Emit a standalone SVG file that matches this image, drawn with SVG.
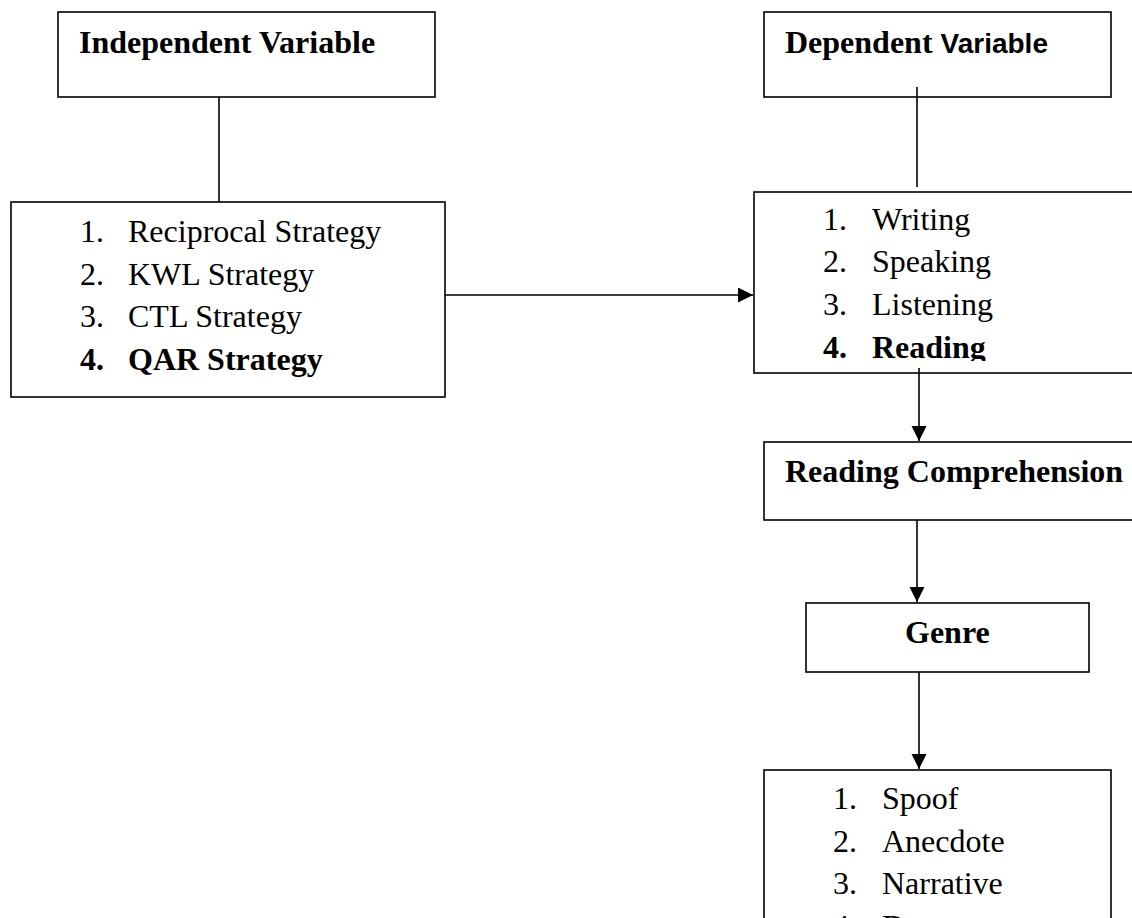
<svg xmlns="http://www.w3.org/2000/svg" width="1132" height="918" viewBox="0 0 1132 918">
<style>
.box{fill:#fff;stroke:#000;stroke-width:1.6}
.t{font-family:"Liberation Serif","Times New Roman",serif;font-size:32px;fill:#000}
.b{font-weight:bold}
.s{font-family:"Liberation Sans",Arial,sans-serif;font-weight:bold;font-size:28px}
.ln{stroke:#000;stroke-width:1.6;fill:none}
</style>
<defs>
<marker id="arr" markerWidth="16" markerHeight="16" refX="15" refY="7.5" orient="auto" markerUnits="userSpaceOnUse">
<path d="M0,0 L15,7.5 L0,15 Z" fill="#000"/>
</marker>
<clipPath id="c3"><rect x="754" y="192" width="380" height="169"/></clipPath>
</defs>
<g id="independent-variable">
<rect class="box" x="58" y="12" width="377" height="85"/>
<text class="t b" x="79" y="53">Independent Variable</text>
</g>
<g id="strategies">
<rect class="box" x="11" y="202" width="434" height="195"/>
<text class="t" x="80" y="242">1.</text><text class="t" x="128" y="242">Reciprocal Strategy</text>
<text class="t" x="80" y="285">2.</text><text class="t" x="128" y="285">KWL Strategy</text>
<text class="t" x="80" y="327">3.</text><text class="t" x="128" y="327">CTL Strategy</text>
<text class="t b" x="80" y="370">4.</text><text class="t b" x="128" y="370">QAR Strategy</text>
</g>
<g id="dependent-variable">
<rect class="box" x="764" y="12" width="347" height="85"/>
<text class="t b" x="785" y="53">Dependent <tspan class="s">Variable</tspan></text>
</g>
<g id="skills">
<rect class="box" x="754" y="192" width="400" height="181"/>
<g clip-path="url(#c3)">
<text class="t" x="823" y="230">1.</text><text class="t" x="872" y="230">Writing</text>
<text class="t" x="823" y="272">2.</text><text class="t" x="872" y="272">Speaking</text>
<text class="t" x="823" y="315">3.</text><text class="t" x="872" y="315">Listening</text>
<text class="t b" x="823" y="358">4.</text><text class="t b" x="872" y="358">Reading</text>
</g>
</g>
<g id="reading-comprehension">
<rect class="box" x="764" y="442" width="400" height="78"/>
<text class="t b" x="785" y="482">Reading Comprehension</text>
</g>
<g id="genre">
<rect class="box" x="806" y="603" width="283" height="69"/>
<text class="t b" x="905" y="643">Genre</text>
</g>
<g id="genres">
<rect class="box" x="764" y="770" width="347" height="200"/>
<text class="t" x="833" y="809">1.</text><text class="t" x="882" y="809">Spoof</text>
<text class="t" x="833" y="852">2.</text><text class="t" x="882" y="852">Anecdote</text>
<text class="t" x="833" y="894">3.</text><text class="t" x="882" y="894">Narrative</text>
<text class="t" x="833" y="937">4.</text><text class="t" x="882" y="937">D</text>
</g>
<g id="connectors">
<line class="ln" x1="219" y1="97" x2="219" y2="202"/>
<line class="ln" x1="917" y1="87" x2="917" y2="187"/>
<line class="ln" x1="445" y1="295" x2="753" y2="295" marker-end="url(#arr)"/>
<line class="ln" x1="919" y1="368" x2="919" y2="441" marker-end="url(#arr)"/>
<line class="ln" x1="917" y1="520" x2="917" y2="602" marker-end="url(#arr)"/>
<line class="ln" x1="919" y1="672" x2="919" y2="769" marker-end="url(#arr)"/>
</g>
</svg>
